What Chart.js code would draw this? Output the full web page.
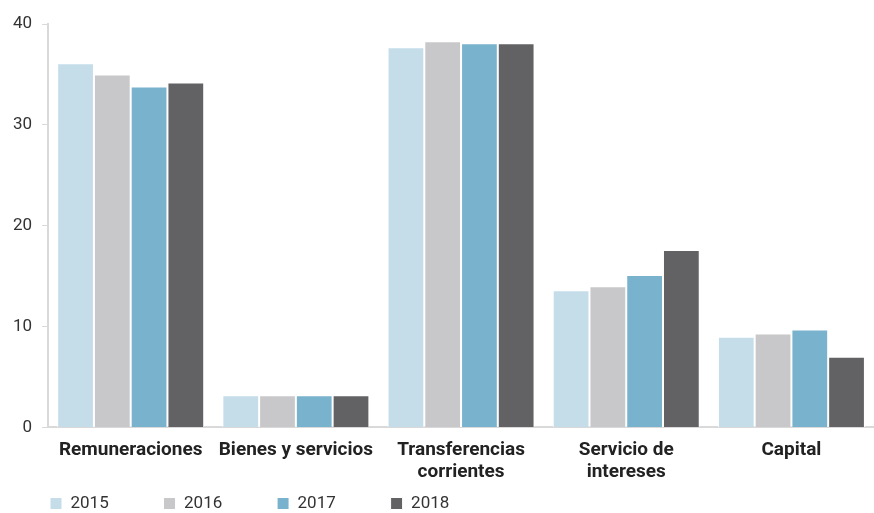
<!DOCTYPE html>
<html>
<head>
<meta charset="utf-8">
<script src="https://cdn.jsdelivr.net/npm/chart.js@4"></script>
<style>
  html, body { margin: 0; padding: 0; background: #fff; }
  #wrap { width: 874px; height: 513px; }
</style>
</head>
<body>
<div id="wrap"><canvas id="chart"></canvas></div>
<script>
// categories and series
const categories = ['Remuneraciones', 'Bienes y servicios', ['Transferencias', 'corrientes'], ['Servicio de', 'intereses'], 'Capital'];
const years = ['2015', '2016', '2017', '2018'];
const v2015 = [36.1, 3.2, 37.7, 13.6, 9.0];
const v2016 = [35.0, 3.2, 38.3, 14.0, 9.3];
const v2017 = [33.8, 3.2, 38.1, 15.1, 9.7];
const v2018 = [34.2, 3.2, 38.1, 17.6, 7.0];
const yTicks = [0, 10, 20, 30, 40];

const colors = ['#c5dde9', '#c8c8ca', '#79b2cd', '#626264'];
const series = [v2015, v2016, v2017, v2018];
const fontFamily = 'Roboto, "Liberation Sans", sans-serif';

// nudge the legend right, like the original sits under the plot
const legendShift = {
  id: 'legendShift',
  afterLayout(chart) {
    if (chart.legend) chart.legend.left += 47;
  }
};

new Chart(document.getElementById('chart'), {
  type: 'bar',
  data: {
    labels: categories,
    datasets: series.map((vals, i) => ({
      label: years[i],
      data: vals,
      backgroundColor: colors[i],
      borderColor: '#ffffff',
      borderWidth: 1,
      categoryPercentage: 0.89,
      barPercentage: 1.0
    }))
  },
  options: {
    responsive: true,
    maintainAspectRatio: false,
    animation: false,
    layout: { padding: { left: 3, right: 0, top: 24, bottom: -9 } },
    plugins: {
      legend: {
        position: 'bottom',
        align: 'start',
        labels: {
          boxWidth: 12,
          boxHeight: 12,
          padding: 0,
          color: '#333',
          font: { family: fontFamily, size: 17 },
          // pad the text so the items spread out the way they do in the original
          generateLabels: chart => Chart.defaults.plugins.legend.labels.generateLabels(chart)
            .map(item => ({ ...item, text: item.text + ' '.repeat(13) }))
        }
      },
      tooltip: { enabled: false }
    },
    scales: {
      x: {
        grid: { display: false, drawTicks: false },
        border: { display: true, color: '#d9d9d9', width: 2 },
        ticks: {
          color: '#222',
          maxRotation: 0,
          autoSkip: false,
          padding: 11,
          font: { family: fontFamily, size: 19, weight: 'bold', lineHeight: 1.2 }
        }
      },
      y: {
        min: 0,
        max: 40,
        afterBuildTicks: axis => { axis.ticks = yTicks.map(v => ({ value: v })); },
        grid: { drawOnChartArea: false, drawTicks: true, tickLength: 6, color: '#d9d9d9' },
        border: { display: true, color: '#d9d9d9', width: 2 },
        ticks: {
          color: '#333',
          padding: 10,
          font: { family: fontFamily, size: 17 }
        }
      }
    }
  },
  plugins: [legendShift]
});
</script>
</body>
</html>
